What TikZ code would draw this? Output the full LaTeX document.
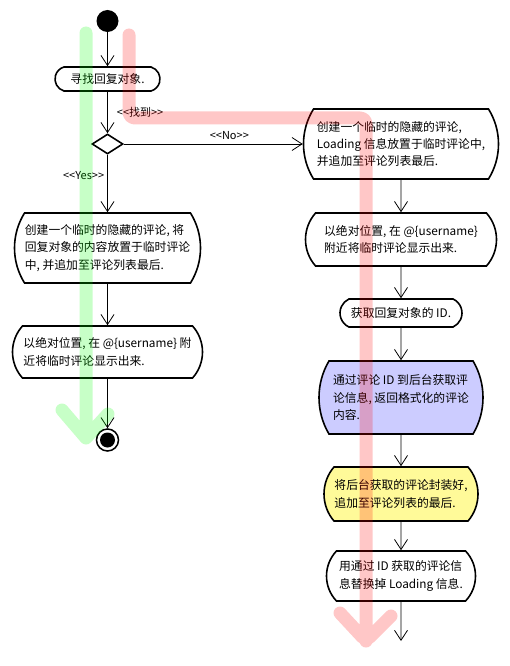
\documentclass[tikz,border=0pt]{standalone}
\usepackage{fontspec}
\newfontfamily\cjk{Noto Sans CJK SC}
\usepackage{tikz}
\usetikzlibrary{shapes.misc, shapes.geometric, arrows.meta, positioning}

\tikzset{
    act/.style={draw, line width=1.6pt, fill=white, rounded rectangle, rounded rectangle arc length=#1, inner sep=2pt, align=left, font=\cjk\fontsize{11.8}{17.3}\selectfont},
    act/.default=90,
    flow/.style={line width=0.8pt, -{Straight Barb[length=10pt,width=13pt]}},
    guard/.style={font=\cjk\fontsize{11}{13}\selectfont, inner sep=1pt},
    hilite/.style={line width=13pt, line cap=round, line join=round, opacity=0.22},
}

\begin{document}
\begin{tikzpicture}[x=1pt, y=-1pt]
    \useasboundingbox (0,0) rectangle (509,666);

    % Reply found
    \node[circle, fill, minimum size=22pt, inner sep=0pt] (start) at (107.5,21) {};
    \node[act=147, minimum width=109pt, minimum height=24pt] (find) at (107.5,79) {寻找回复对象.};
    \node[diamond, draw, line width=1.6pt, fill=white, minimum width=31pt, minimum height=20pt, inner sep=0pt] (found) at (107.5,144) {};
    \node[act=64, minimum width=190pt, minimum height=70pt] (hidden) at (107.5,248) {创建一个临时的隐藏的评论, 将\\回复对象的内容放置于临时评论\\中, 并追加至评论列表最后.};
    \node[act=84, minimum width=194pt, minimum height=52pt] (show) at (107.5,352) {以绝对位置, 在 @\{username\} 附\\近将临时评论显示出来.};
    \node[circle, draw, line width=1.5pt, minimum size=22pt, inner sep=0pt, path picture={\fill (path picture bounding box.center) circle (7.5pt);}] (stop) at (107.5,440) {};

    % Reply not found
    \node[act=64, minimum width=199pt, minimum height=70pt] (loading) at (401,144) {创建一个临时的隐藏的评论,\\Loading 信息放置于临时评论中,\\并追加至评论列表最后.};
    \node[act=83, minimum width=195pt, minimum height=53pt] (showload) at (401,239.5) {以绝对位置, 在 @\{username\}\\附近将临时评论显示出来.};
    \node[act=130, minimum width=126pt, minimum height=28pt] (getid) at (401,313) {获取回复对象的 ID.};
    \node[act=61, minimum width=168pt, minimum height=73pt, fill=blue!20] (fetch) at (401,397.5) {通过评论 ID 到后台获取评\\论信息, 返回格式化的评论\\内容.};
    \node[act=81, minimum width=158pt, minimum height=54pt, fill=yellow!40] (wrap) at (401,494) {将后台获取的评论封装好,\\追加至评论列表的最后.};
    \node[act=87, minimum width=153pt, minimum height=50pt] (swap) at (401,576) {用通过 ID 获取的评论信\\息替换掉 Loading 信息.};
    \coordinate (tail) at (401,641);

    \draw[flow] (start) -- (find);
    \draw[flow] (find) -- node[guard, right=8pt] {<<找到>>} (found);
    \draw[flow] (found) -- node[guard, above=3pt, pos=0.59] {<<No>>} (loading);
    \draw[flow] (found) -- node[guard, left=2pt, pos=0.37] {<<Yes>>} (hidden);
    \draw[flow] (hidden) -- (show);
    \draw[flow] (show) -- (stop);
    \draw[flow] (loading) -- (showload);
    \draw[flow] (showload) -- (getid);
    \draw[flow] (getid) -- (fetch);
    \draw[flow] (fetch) -- (wrap);
    \draw[flow] (wrap) -- (swap);
    \draw[flow] (swap) -- (tail);

    % highlighted paths
    \draw[hilite, green] (86,33) -- (86,438) (62,410) -- (86,438) -- (108,414);
    \draw[hilite, red, rounded corners=6pt] (129,35) -- (129,118) -- (366,118) -- (366,641) (340,613) -- (366,641) -- (391,616);

\end{tikzpicture}
\end{document}
